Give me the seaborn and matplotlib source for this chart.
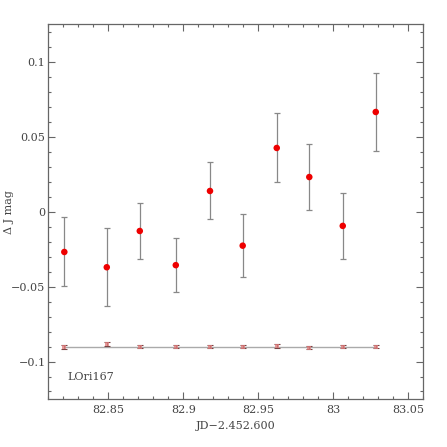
import numpy as np
import pandas as pd
import matplotlib
matplotlib.use("Agg")
import matplotlib.pyplot as plt
import seaborn as sns
from matplotlib.ticker import MultipleLocator, FuncFormatter

# Data
jd = [82.8207, 82.849, 82.871, 82.895, 82.9178, 82.9396, 82.9623, 82.984, 83.0063, 83.0283]
dmag = [-0.0269, -0.0371, -0.0129, -0.0357, 0.0138, -0.0227, 0.0425, 0.0231, -0.0095, 0.0665]
dmag_err = [0.023, 0.026, 0.019, 0.018, 0.019, 0.021, 0.023, 0.022, 0.022, 0.026]
comp = [-0.0904, -0.0884, -0.0900, -0.0900, -0.0900, -0.0902, -0.0898, -0.0907, -0.0900, -0.0900]
comp_err = [0.0013, 0.0015, 0.0010, 0.0010, 0.0010, 0.0010, 0.0012, 0.0012, 0.0010, 0.0012]
comp_level = -0.09
star_name = "LOri167"
x_label = "JD\u22122.452.600"
y_label = "\u0394 J mag"

sns.set_style("ticks")
plt.rcParams['font.family'] = ['DejaVu Serif', 'DejaVu Sans']
grey = "#666666"
tcol = "#444444"

df = pd.DataFrame({"jd": jd, "dmag": dmag, "err": dmag_err, "comp": comp, "cerr": comp_err})

fig = plt.figure(figsize=(4.47, 4.47), dpi=100)
ax = fig.add_axes([0.108, 0.1074, 0.839, 0.8382])

# comparison level line
ax.hlines(comp_level, df.jd.min(), df.jd.max(), color="#aaaaaa", lw=1.0, zorder=1)

# error bars
ax.errorbar(df.jd, df.dmag, yerr=df.err, fmt="none", ecolor="#888888", elinewidth=0.9,
            capsize=2.0, capthick=0.9, zorder=2)
ax.errorbar(df.jd, df.comp, yerr=df.cerr, fmt="none", ecolor="#774444", elinewidth=0.8,
            capsize=2.0, capthick=0.8, zorder=3)

sns.scatterplot(data=df, x="jd", y="dmag", ax=ax, color="#ee0000", s=22, edgecolor="none",
                zorder=4, legend=False)
sns.scatterplot(data=df, x="jd", y="comp", ax=ax, color="#e08080", marker="s", s=8,
                edgecolor="none", alpha=0.8, zorder=3, legend=False)

ax.set_xlim(82.81, 83.06)
ax.set_ylim(-0.125, 0.125)

ax.xaxis.set_major_locator(MultipleLocator(0.05))
ax.xaxis.set_minor_locator(MultipleLocator(0.01))
ax.yaxis.set_major_locator(MultipleLocator(0.05))
ax.yaxis.set_minor_locator(MultipleLocator(0.01))

def fmt(v, pos):
    s = f"{v:.2f}".rstrip("0").rstrip(".")
    if s in ("-0", "0"):
        s = "0"
    return s.replace("-", "\u2212")

ax.xaxis.set_major_formatter(FuncFormatter(fmt))
ax.yaxis.set_major_formatter(FuncFormatter(fmt))

ax.tick_params(which="both", direction="in", top=True, right=True, color=grey, width=0.8,
               labelsize=8, labelcolor=tcol)
ax.tick_params(which="major", length=4.8)
ax.tick_params(which="minor", length=2.4)
ax.tick_params(axis="y", which="major", pad=2)
ax.tick_params(axis="x", which="major", pad=4)
for sp in ax.spines.values():
    sp.set_color(grey)
    sp.set_linewidth(0.9)

ax.set_xlabel(x_label, fontsize=8, color=tcol)
ax.set_ylabel(y_label, fontsize=8, color=tcol)
ax.xaxis.set_label_coords(0.5, -0.06)
ax.yaxis.set_label_coords(-0.092, 0.5)

ax.text(82.823, -0.11, star_name, fontsize=8, color=tcol, va="center", ha="left")

fig.savefig("out.png", dpi=100)
